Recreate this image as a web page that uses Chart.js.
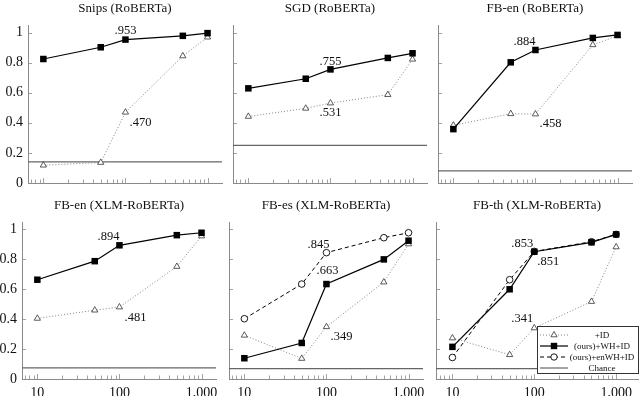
<!DOCTYPE html>
<html>
<head>
<meta charset="utf-8">
<script src="https://cdn.jsdelivr.net/npm/chart.js@4"></script>
<style>
html, body { margin: 0; padding: 0; background: #fff; }
body { position: relative; width: 640px; height: 396px; overflow: hidden; }
canvas { position: absolute; }
</style>
</head>
<body>
<script>
// training examples per intent (x) and accuracy (y)
const sizes = [10, 50, 100, 500, 1000];
const xTickValues = [10, 100, 1000];
const yTickValues = [0, 0.2, 0.4, 0.6, 0.8, 1];

const titles = ['Snips (RoBERTa)', 'SGD (RoBERTa)', 'FB-en (RoBERTa)',
    'FB-en (XLM-RoBERTa)', 'FB-es (XLM-RoBERTa)', 'FB-th (XLM-RoBERTa)'];

const plusId = [
    [0.118, 0.136, 0.470, 0.844, 0.969],
    [0.442, 0.496, 0.531, 0.587, 0.822],
    [0.384, 0.460, 0.458, 0.918, 0.978],
    [0.405, 0.460, 0.481, 0.752, 0.956],
    [0.292, 0.137, 0.349, 0.648, 0.903],
    [0.274, 0.162, 0.341, 0.518, 0.883]
];
const oursWh = [
    [0.824, 0.902, 0.953, 0.978, 0.996],
    [0.629, 0.693, 0.755, 0.831, 0.862],
    [0.358, 0.802, 0.884, 0.964, 0.984],
    [0.664, 0.788, 0.894, 0.962, 0.978],
    [0.139, 0.241, 0.635, 0.800, 0.925],
    [0.215, 0.600, 0.851, 0.914, 0.967]
];
const oursEnWh = [null, null, null, null,
    [0.403, 0.635, 0.845, 0.945, 0.978],
    [0.144, 0.664, 0.853, 0.918, 0.967]
];
const chance = [0.14, 0.25, 0.08, 0.075, 0.07, 0.07];

// callout texts next to the points at 100 examples
const calloutText = [['.953', '.470'], ['.755', '.531'], ['.884', '.458'],
    ['.894', '.481'], ['.845', '.663', '.349'], ['.853', '.851', '.341']];
const calloutSeries = [['wh', 'id'], ['wh', 'id'], ['wh', 'id'],
    ['wh', 'id'], ['en', 'wh', 'id'], ['en', 'wh', 'id']];

const legendLabels = ['+ID', '(ours)+WH+ID', '(ours)+enWH+ID', 'Chance'];

// ---- layout / style ----
const FONT = "'Liberation Serif', 'Times New Roman', serif";
const Y_AXIS_W = 28;
const X_AXIS_H = 17;
const panels = [
    { left: 0,   top: 0,   plotW: 194, h: 200, yLab: true,  xLab: false, xMin: 6.5, xMax: 1500 },
    { left: 205, top: 0,   plotW: 194, h: 200, yLab: false, xLab: false, xMin: 6.5, xMax: 1500 },
    { left: 410, top: 0,   plotW: 194, h: 200, yLab: false, xLab: false, xMin: 6.5, xMax: 1500 },
    { left: -6,  top: 197, plotW: 194, h: 199, yLab: true,  xLab: true,  xMin: 6.5, xMax: 1500 },
    { left: 201, top: 197, plotW: 194, h: 199, yLab: false, xLab: true,  xMin: 6.5, xMax: 1500 },
    { left: 408, top: 197, plotW: 202, h: 199, yLab: false, xLab: true,  xMin: 6.3, xMax: 1850 }
];
const calloutOffset = [
    [[0, -9], [15, 10]],
    [[0, -8], [0, 10]],
    [[-11, -8], [15, 10]],
    [[-11, -9], [16, 11]],
    [[-8, -8], [1, -13], [15, 10]],
    [[-12, -8], [14, 10], [-12, -9]]
];

Chart.defaults.font.family = FONT;
Chart.defaults.color = '#111';

const panelDecor = {
    id: 'panelDecor',
    afterDatasetsDraw(chart, args, opts) {
        const ctx = chart.ctx;
        const area = chart.chartArea;
        const xs = chart.scales.x, ys = chart.scales.y;
        ctx.save();
        // inward ticks
        ctx.strokeStyle = '#8a8a8a';
        ctx.lineWidth = 0.8;
        ctx.beginPath();
        yTickValues.forEach(v => {
            const py = Math.round(ys.getPixelForValue(v)) + 0.5;
            ctx.moveTo(area.left, py);
            ctx.lineTo(area.left + 4, py);
        });
        [1, 10, 100, 1000].forEach(k => {
            for (let m = 1; m <= 9; m++) {
                const v = m * k;
                if (v < xs.min || v > xs.max) continue;
                const px = Math.round(xs.getPixelForValue(v)) + 0.5;
                ctx.moveTo(px, area.bottom);
                ctx.lineTo(px, area.bottom - (m === 1 ? 5 : 3.5));
            }
        });
        ctx.stroke();

        // callouts
        const i = opts.index;
        const series = { id: plusId[i], wh: oursWh[i], en: oursEnWh[i] };
        ctx.fillStyle = '#111';
        ctx.font = '12.5px ' + FONT;
        ctx.textAlign = 'center';
        ctx.textBaseline = 'middle';
        calloutText[i].forEach((t, j) => {
            const vals = series[calloutSeries[i][j]];
            const px = xs.getPixelForValue(sizes[2]);
            const py = ys.getPixelForValue(vals[2]);
            const off = calloutOffset[i][j];
            ctx.fillText(t, px + off[0], py + off[1]);
        });

        // legend inside the last panel
        if (opts.legend) {
            const bx = area.right - 101, by = area.bottom - 53, bw = 101, bh = 47;
            ctx.fillStyle = '#fff';
            ctx.fillRect(bx, by, bw, bh);
            ctx.strokeStyle = '#333';
            ctx.lineWidth = 1;
            ctx.setLineDash([]);
            ctx.strokeRect(bx + 0.5, by + 0.5, bw, bh);
            const rows = [by + 9, by + 20, by + 31, by + 42];
            const sx0 = bx + 3, sx1 = bx + 31, mx = bx + 17;
            ctx.font = '9px ' + FONT;
            ctx.textAlign = 'center';
            legendLabels.forEach((lab, r) => {
                const y = rows[r];
                ctx.beginPath();
                if (r === 0) { ctx.strokeStyle = '#777'; ctx.setLineDash([1, 2]); ctx.lineWidth = 0.9; }
                else if (r === 1) { ctx.strokeStyle = '#000'; ctx.setLineDash([]); ctx.lineWidth = 1.2; }
                else if (r === 2) { ctx.strokeStyle = '#000'; ctx.setLineDash([4, 3]); ctx.lineWidth = 1; }
                else { ctx.strokeStyle = '#666'; ctx.setLineDash([]); ctx.lineWidth = 1.2; }
                ctx.moveTo(sx0, y);
                ctx.lineTo(sx1, y);
                ctx.stroke();
                ctx.setLineDash([]);
                if (r === 0) {
                    ctx.fillStyle = '#fff'; ctx.strokeStyle = '#333'; ctx.lineWidth = 0.8;
                    ctx.beginPath();
                    ctx.moveTo(mx, y - 3.6); ctx.lineTo(mx + 3.1, y + 1.8); ctx.lineTo(mx - 3.1, y + 1.8); ctx.closePath();
                    ctx.fill(); ctx.stroke();
                } else if (r === 1) {
                    ctx.fillStyle = '#000';
                    ctx.fillRect(mx - 3.2, y - 3.2, 6.4, 6.4);
                } else if (r === 2) {
                    ctx.fillStyle = '#fff'; ctx.strokeStyle = '#000'; ctx.lineWidth = 0.9;
                    ctx.beginPath(); ctx.arc(mx, y, 3.2, 0, Math.PI * 2); ctx.fill(); ctx.stroke();
                }
                ctx.fillStyle = '#111';
                ctx.fillText(lab, bx + 65, y + 0.5);
            });
        }
        ctx.restore();
    }
};

function makeChart(i) {
    const p = panels[i];
    const canvas = document.createElement('canvas');
    canvas.width = Y_AXIS_W + p.plotW + 10;
    canvas.height = p.h;
    canvas.style.left = p.left + 'px';
    canvas.style.top = p.top + 'px';
    document.body.appendChild(canvas);

    const pts = arr => sizes.map((s, k) => ({ x: s, y: arr[k] }));
    const datasets = [{
        label: legendLabels[1],
        data: pts(oursWh[i]),
        borderColor: '#000', borderWidth: 1.2,
        pointStyle: 'rect', pointRadius: 4.6,
        pointBackgroundColor: '#000', pointBorderColor: '#000', pointBorderWidth: 0
    }];
    if (oursEnWh[i]) {
        datasets.push({
            label: legendLabels[2],
            data: pts(oursEnWh[i]),
            borderColor: '#000', borderWidth: 1, borderDash: [4, 3],
            pointStyle: 'circle', pointRadius: 3.3,
            pointBackgroundColor: '#fff', pointBorderColor: '#000', pointBorderWidth: 0.9
        });
    }
    datasets.push({
        label: legendLabels[0],
        data: pts(plusId[i]),
        borderColor: '#777', borderWidth: 0.9, borderDash: [1, 2],
        pointStyle: 'triangle', pointRadius: 3.6,
        pointBackgroundColor: '#fff', pointBorderColor: '#333', pointBorderWidth: 0.8
    });
    datasets.push({
        label: legendLabels[3],
        data: [{ x: p.xMin, y: chance[i] }, { x: p.xMax, y: chance[i] }],
        borderColor: '#666', borderWidth: 1.2, pointRadius: 0
    });

    new Chart(canvas, {
        type: 'line',
        data: { datasets: datasets },
        options: {
            responsive: false,
            animation: false,
            devicePixelRatio: 1,
            layout: { padding: { right: 10 } },
            elements: { line: { tension: 0 } },
            scales: {
                x: {
                    type: 'logarithmic',
                    min: p.xMin, max: p.xMax,
                    grid: { display: false, drawTicks: false },
                    border: { display: true, color: '#8a8a8a', width: 1 },
                    afterBuildTicks: s => { s.ticks = xTickValues.map(v => ({ value: v })); },
                    afterFit: s => { s.height = X_AXIS_H; },
                    ticks: {
                        display: p.xLab,
                        padding: 6,
                        autoSkip: false,
                        maxRotation: 0,
                        font: { family: FONT, size: 14 },
                        callback: v => Number(v).toLocaleString('en-US')
                    }
                },
                y: {
                    min: 0, max: 1.05,
                    grid: { display: false, drawTicks: false },
                    border: { display: true, color: '#8a8a8a', width: 1 },
                    afterBuildTicks: s => { s.ticks = yTickValues.map(v => ({ value: v })); },
                    afterFit: s => { s.width = Y_AXIS_W; },
                    ticks: {
                        display: p.yLab,
                        padding: 5,
                        font: { family: FONT, size: 14 },
                        callback: v => String(v)
                    }
                }
            },
            plugins: {
                legend: { display: false },
                tooltip: { enabled: false },
                title: {
                    display: true,
                    text: titles[i],
                    fullSize: false,
                    font: { family: FONT, size: 13, weight: 'normal' },
                    color: '#111',
                    padding: { top: 0.4, bottom: 9 }
                },
                panelDecor: { index: i, legend: i === 5 }
            }
        },
        plugins: [panelDecor]
    });
}

function buildAll() {
    for (let i = 0; i < titles.length; i++) makeChart(i);
}

if (document.fonts && document.fonts.load) {
    Promise.all([
        document.fonts.load("13px 'Liberation Serif'"),
        document.fonts.load("14px 'Liberation Serif'")
    ]).then(buildAll, buildAll);
} else {
    buildAll();
}
</script>
</body>
</html>
